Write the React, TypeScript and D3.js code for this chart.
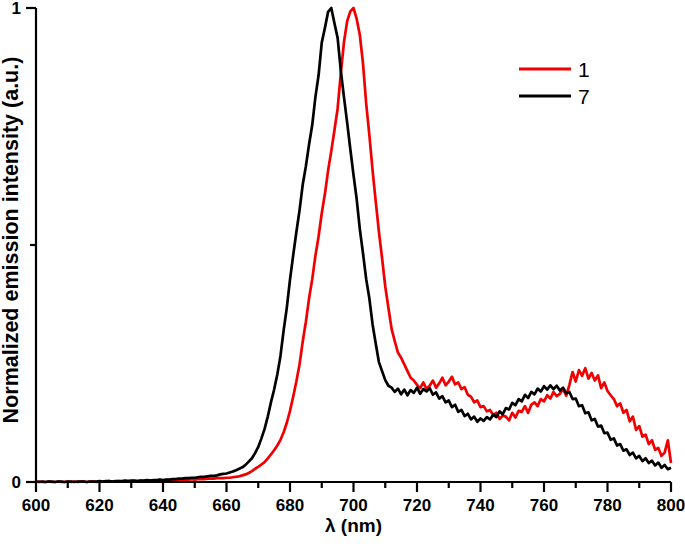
import React from "react";
import * as d3 from "d3";

const startNm = 600;
const stepNm = 1;

const series1: number[] = [
  0.000,0.001,0.000,0.000,0.001,0.000,0.000,0.001,0.000,0.000,
  0.001,0.000,0.001,0.000,0.001,0.001,0.000,0.001,0.001,0.000,
  0.001,0.001,0.001,0.002,0.001,0.001,0.002,0.001,0.002,0.002,
  0.002,0.002,0.002,0.003,0.002,0.003,0.003,0.003,0.003,0.004,
  0.003,0.004,0.004,0.004,0.005,0.004,0.005,0.005,0.005,0.006,
  0.005,0.006,0.006,0.006,0.007,0.007,0.007,0.008,0.008,0.008,
  0.009,0.009,0.010,0.011,0.012,0.014,0.016,0.019,0.023,0.028,
  0.032,0.037,0.042,0.050,0.058,0.067,0.077,0.089,0.105,0.125,
  0.150,0.180,0.212,0.248,0.296,0.338,0.387,0.428,0.477,0.518,
  0.567,0.608,0.657,0.698,0.742,0.788,0.862,0.928,0.972,0.993,
  1.000,0.977,0.943,0.882,0.798,0.732,0.658,0.592,0.528,0.472,
  0.413,0.367,0.323,0.297,0.273,0.262,0.248,0.234,0.220,0.214,
  0.205,0.198,0.210,0.196,0.203,0.214,0.199,0.208,0.220,0.204,
  0.212,0.222,0.206,0.210,0.196,0.200,0.184,0.180,0.168,0.172,
  0.158,0.160,0.149,0.152,0.141,0.146,0.133,0.140,0.138,0.130,
  0.146,0.136,0.150,0.148,0.160,0.146,0.163,0.168,0.160,0.175,
  0.170,0.183,0.176,0.190,0.181,0.186,0.196,0.182,0.205,0.232,
  0.212,0.236,0.224,0.240,0.218,0.230,0.214,0.225,0.198,0.210,
  0.192,0.183,0.175,0.160,0.166,0.146,0.152,0.128,0.138,0.110,
  0.118,0.096,0.100,0.080,0.088,0.068,0.072,0.055,0.062,0.088,
  0.040,
];

const series7: number[] = [
  0.001,0.000,0.001,0.000,0.001,0.001,0.000,0.001,0.001,0.000,
  0.001,0.001,0.000,0.001,0.001,0.001,0.000,0.001,0.001,0.001,
  0.002,0.001,0.002,0.002,0.001,0.002,0.002,0.002,0.003,0.002,
  0.003,0.003,0.002,0.003,0.003,0.004,0.003,0.004,0.004,0.005,
  0.004,0.005,0.005,0.006,0.006,0.007,0.007,0.008,0.008,0.009,
  0.009,0.010,0.011,0.011,0.012,0.013,0.013,0.014,0.016,0.017,
  0.018,0.020,0.022,0.025,0.028,0.031,0.036,0.043,0.050,0.061,
  0.074,0.092,0.112,0.138,0.168,0.195,0.227,0.266,0.320,0.368,
  0.427,0.478,0.527,0.573,0.627,0.666,0.712,0.753,0.812,0.858,
  0.927,0.958,0.992,1.000,0.968,0.937,0.868,0.812,0.758,0.702,
  0.648,0.597,0.533,0.482,0.428,0.387,0.333,0.292,0.253,0.234,
  0.215,0.203,0.199,0.190,0.197,0.185,0.195,0.183,0.194,0.188,
  0.199,0.186,0.196,0.191,0.198,0.184,0.189,0.176,0.181,0.168,
  0.172,0.158,0.163,0.148,0.152,0.139,0.144,0.132,0.138,0.127,
  0.134,0.129,0.137,0.132,0.142,0.137,0.149,0.143,0.156,0.153,
  0.167,0.162,0.175,0.170,0.184,0.177,0.190,0.185,0.197,0.191,
  0.202,0.195,0.204,0.196,0.203,0.193,0.199,0.187,0.190,0.175,
  0.176,0.160,0.162,0.145,0.147,0.130,0.133,0.117,0.119,0.103,
  0.104,0.089,0.092,0.077,0.080,0.066,0.069,0.057,0.062,0.050,
  0.055,0.044,0.050,0.040,0.045,0.035,0.041,0.030,0.036,0.027,
  0.030,
];

const seriesNames = ["1", "7"];
const seriesColors = ["#f00000", "#000000"];
const xMajorTicks = [600, 620, 640, 660, 680, 700, 720, 740, 760, 780, 800];
const xMinorTicks = [610, 630, 650, 670, 690, 710, 730, 750, 770, 790];
const yMajorTicks = [0, 1];
const yMinorTicks = [0.5];

const W = 685;
const H = 552;
const FONT = "Arial, 'Liberation Sans', Helvetica, sans-serif";

export default function App() {
  const x = d3.scaleLinear().domain([600, 800]).range([36, 671]);
  const y = d3.scaleLinear().domain([0, 1]).range([482, 8]);
  const line = d3
    .line<number>()
    .x((_, i) => x(startNm + i * stepNm))
    .y((v) => y(v));
  const all = [series1, series7];

  return (
    <svg
      width={W}
      height={H}
      style={{ position: "absolute", left: 0, top: 0, background: "#fff" }}
    >
      <rect width={W} height={H} fill="#fff" />
      {all.map((s, k) => (
        <path
          key={k}
          d={line(s) || ""}
          fill="none"
          stroke={seriesColors[k]}
          strokeWidth={2.7}
          strokeLinejoin="round"
        />
      ))}
      {/* axes */}
      <line x1={x(600)} x2={x(800)} y1={y(0)} y2={y(0)} stroke="#000" strokeWidth={2.2} />
      <line x1={x(600)} x2={x(600)} y1={y(0)} y2={y(1)} stroke="#000" strokeWidth={2.2} />
      {xMajorTicks.map((t) => (
        <g key={"xm" + t}>
          <line x1={x(t)} x2={x(t)} y1={y(0)} y2={y(0) + 10} stroke="#000" strokeWidth={2.2} />
          <text
            x={x(t)}
            y={511}
            textAnchor="middle"
            fontFamily={FONT}
            fontWeight="bold"
            fontSize={17}
          >
            {t}
          </text>
        </g>
      ))}
      {xMinorTicks.map((t) => (
        <line key={"xn" + t} x1={x(t)} x2={x(t)} y1={y(0)} y2={y(0) + 6} stroke="#000" strokeWidth={2.2} />
      ))}
      {yMajorTicks.map((t) => (
        <g key={"ym" + t}>
          <line x1={x(600) - 10} x2={x(600)} y1={y(t)} y2={y(t)} stroke="#000" strokeWidth={2.2} />
          <text
            x={21}
            y={y(t) + 6}
            textAnchor="end"
            fontFamily={FONT}
            fontWeight="bold"
            fontSize={17}
          >
            {t}
          </text>
        </g>
      ))}
      {yMinorTicks.map((t) => (
        <line key={"yn" + t} x1={x(600) - 6} x2={x(600)} y1={y(t)} y2={y(t)} stroke="#000" strokeWidth={2.2} />
      ))}
      <text
        x={(x(600) + x(800)) / 2}
        y={532}
        textAnchor="middle"
        fontFamily={FONT}
        fontWeight="bold"
        fontSize={19}
      >
        λ (nm)
      </text>
      <text
        transform={`translate(18, ${240}) rotate(-90)`}
        textAnchor="middle"
        fontFamily={FONT}
        fontWeight="bold"
        fontSize={21.5}
      >
        Normalized emission intensity (a.u.)
      </text>
      {/* legend */}
      {seriesNames.map((n, k) => (
        <g key={"lg" + n}>
          <line
            x1={519}
            x2={571}
            y1={69 + k * 27}
            y2={69 + k * 27}
            stroke={seriesColors[k]}
            strokeWidth={3}
          />
          <text x={578} y={69 + k * 27 + 7.5} fontFamily={FONT} fontSize={21}>
            {n}
          </text>
        </g>
      ))}
    </svg>
  );
}
